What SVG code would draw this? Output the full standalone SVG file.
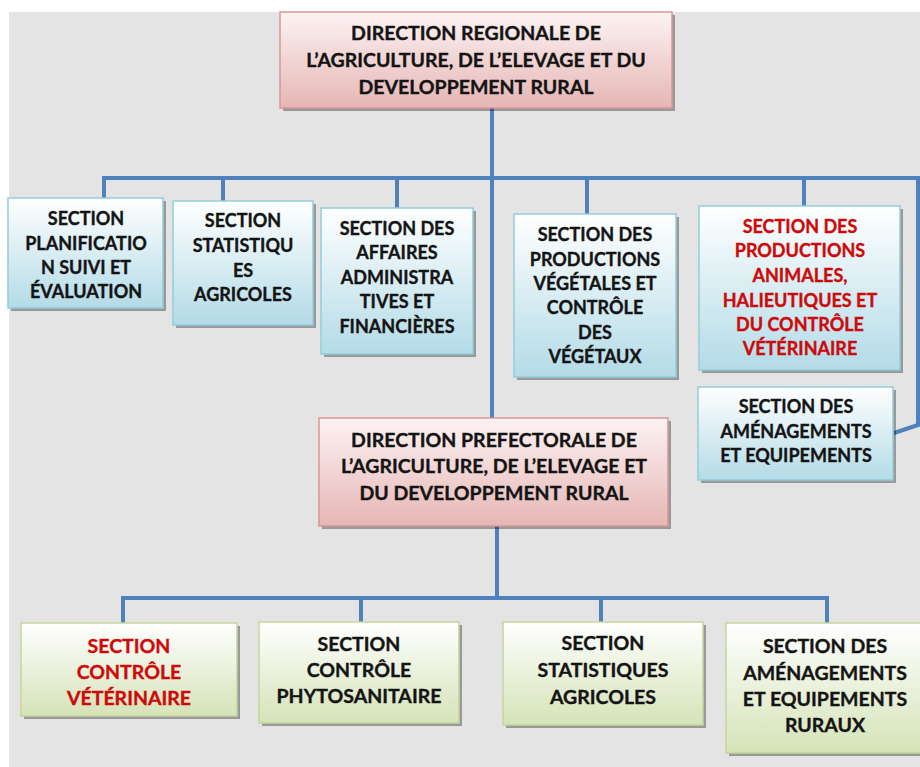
<svg xmlns="http://www.w3.org/2000/svg" width="920" height="767" viewBox="0 0 920 767">
  <defs>
    <linearGradient id="gBlue" x1="0" y1="0" x2="0" y2="1">
      <stop offset="0" stop-color="#ffffff"/>
      <stop offset="1" stop-color="#b3dbe7"/>
    </linearGradient>
    <linearGradient id="gPink" x1="0" y1="0" x2="0" y2="1">
      <stop offset="0" stop-color="#fdf3f3"/>
      <stop offset="1" stop-color="#e5b6b5"/>
    </linearGradient>
    <linearGradient id="gGreen" x1="0" y1="0" x2="0" y2="1">
      <stop offset="0" stop-color="#ffffff"/>
      <stop offset="1" stop-color="#d5e3b8"/>
    </linearGradient>
    <style>
      .sh { fill: #000000; fill-opacity: 0.33; }
      .blue { fill: url(#gBlue); stroke: #93cddd; stroke-width: 1.5; }
      .pink { fill: url(#gPink); stroke: #d99694; stroke-width: 1.5; }
      .green { fill: url(#gGreen); stroke: #c3d69b; stroke-width: 1.5; }
      .t { font-family: Lato, "Open Sans", "Liberation Sans", sans-serif; font-weight: 700; fill: #141414; stroke: #141414; stroke-width: 0.35; text-anchor: middle; }
      .red { fill: #cc0a0a; stroke: #cc0a0a; }
      .s17 { font-size: 18px; }
      .s18 { font-size: 19.5px; }
      .wire { fill: none; stroke: #4f81bd; stroke-width: 4; }
    </style>
  </defs>

  <!-- backdrop -->
  <rect x="0" y="0" width="920" height="767" fill="#ffffff"/>
  <rect x="9" y="12" width="911" height="755" fill="#e4e4e4"/>

  <!-- connectors -->
  <g id="connectors">
    <path class="wire" d="M492 108 V418"/>
    <path class="wire" d="M104 198 V178 H918 V425 L894 433"/>
    <path class="wire" d="M223 178 V201"/>
    <path class="wire" d="M397 178 V208"/>
    <path class="wire" d="M587 178 V214"/>
    <path class="wire" d="M804 178 V206"/>
    <path class="wire" d="M497 526 V598"/>
    <path class="wire" d="M123 623 V598 H827 V623"/>
    <path class="wire" d="M361 598 V622"/>
    <path class="wire" d="M601 598 V622"/>
  </g>

  <!-- regional direction -->
  <g id="dir-regionale">
    <rect class="sh" x="283" y="15" width="392" height="96"/>
    <rect class="pink" x="280" y="12" width="392" height="96"/>
    <text class="t s18" x="476" y="40">DIRECTION REGIONALE DE</text>
    <text class="t s18" x="476" y="67">L’AGRICULTURE, DE L’ELEVAGE ET DU</text>
    <text class="t s18" x="476" y="94">DEVELOPPEMENT RURAL</text>
  </g>

  <g id="sec-planification">
    <rect class="sh" x="11" y="201" width="155" height="110"/>
    <rect class="blue" x="8" y="198" width="155" height="110"/>
    <text class="t s17" x="86" y="225">SECTION</text>
    <text class="t s17" x="86" y="250">PLANIFICATIO</text>
    <text class="t s17" x="86" y="274">N SUIVI ET</text>
    <text class="t s17" x="86" y="298">ÉVALUATION</text>
  </g>

  <g id="sec-statistiques">
    <rect class="sh" x="176" y="204" width="140" height="124"/>
    <rect class="blue" x="173" y="201" width="140" height="124"/>
    <text class="t s17" x="243" y="227">SECTION</text>
    <text class="t s17" x="243" y="252">STATISTIQU</text>
    <text class="t s17" x="243" y="277">ES</text>
    <text class="t s17" x="243" y="301">AGRICOLES</text>
  </g>

  <g id="sec-affaires">
    <rect class="sh" x="324" y="211" width="152" height="146"/>
    <rect class="blue" x="321" y="208" width="152" height="146"/>
    <text class="t s17" x="397" y="235">SECTION DES</text>
    <text class="t s17" x="397" y="259">AFFAIRES</text>
    <text class="t s17" x="397" y="284">ADMINISTRA</text>
    <text class="t s17" x="397" y="308">TIVES ET</text>
    <text class="t s17" x="397" y="333">FINANCIÈRES</text>
  </g>

  <g id="sec-vegetales">
    <rect class="sh" x="517" y="217" width="162" height="163"/>
    <rect class="blue" x="514" y="214" width="162" height="163"/>
    <text class="t s17" x="595" y="241">SECTION DES</text>
    <text class="t s17" x="595" y="266">PRODUCTIONS</text>
    <text class="t s17" x="595" y="290">VÉGÉTALES ET</text>
    <text class="t s17" x="595" y="314">CONTRÔLE</text>
    <text class="t s17" x="595" y="339">DES</text>
    <text class="t s17" x="595" y="363">VÉGÉTAUX</text>
  </g>

  <g id="sec-animales">
    <rect class="sh" x="702" y="209" width="201" height="164"/>
    <rect class="blue" x="699" y="206" width="201" height="164"/>
    <text class="t s17 red" x="800" y="233">SECTION DES</text>
    <text class="t s17 red" x="800" y="257">PRODUCTIONS</text>
    <text class="t s17 red" x="800" y="282">ANIMALES,</text>
    <text class="t s17 red" x="800" y="307">HALIEUTIQUES ET</text>
    <text class="t s17 red" x="800" y="331">DU CONTRÔLE</text>
    <text class="t s17 red" x="800" y="355">VÉTÉRINAIRE</text>
  </g>

  <g id="sec-amenagements">
    <rect class="sh" x="701" y="390" width="195" height="93"/>
    <rect class="blue" x="698" y="387" width="195" height="93"/>
    <text class="t s17" x="796" y="413">SECTION DES</text>
    <text class="t s17" x="796" y="438">AMÉNAGEMENTS</text>
    <text class="t s17" x="796" y="462">ET EQUIPEMENTS</text>
  </g>

  <!-- prefectoral direction -->
  <g id="dir-prefectorale">
    <rect class="sh" x="322" y="421" width="349" height="108"/>
    <rect class="pink" x="319" y="418" width="349" height="108"/>
    <text class="t s18" x="494" y="447">DIRECTION PREFECTORALE DE</text>
    <text class="t s18" x="494" y="473">L’AGRICULTURE, DE L’ELEVAGE ET</text>
    <text class="t s18" x="494" y="500">DU DEVELOPPEMENT RURAL</text>
  </g>

  <g id="sec-veterinaire">
    <rect class="sh" x="24" y="626" width="216" height="93"/>
    <rect class="green" x="21" y="623" width="216" height="93"/>
    <text class="t s18 red" x="129" y="653">SECTION</text>
    <text class="t s18 red" x="129" y="679">CONTRÔLE</text>
    <text class="t s18 red" x="129" y="705">VÉTÉRINAIRE</text>
  </g>

  <g id="sec-phyto">
    <rect class="sh" x="262" y="625" width="200" height="101"/>
    <rect class="green" x="259" y="622" width="200" height="101"/>
    <text class="t s18" x="359" y="651">SECTION</text>
    <text class="t s18" x="359" y="677">CONTRÔLE</text>
    <text class="t s18" x="359" y="703">PHYTOSANITAIRE</text>
  </g>

  <g id="sec-stat-agricoles">
    <rect class="sh" x="506" y="625" width="200" height="103"/>
    <rect class="green" x="503" y="622" width="200" height="103"/>
    <text class="t s18" x="603" y="650">SECTION</text>
    <text class="t s18" x="603" y="677">STATISTIQUES</text>
    <text class="t s18" x="603" y="704">AGRICOLES</text>
  </g>

  <g id="sec-amenagements-ruraux">
    <rect class="sh" x="729" y="626" width="200" height="130"/>
    <rect class="green" x="726" y="623" width="200" height="130"/>
    <text class="t s18" x="825" y="653">SECTION DES</text>
    <text class="t s18" x="825" y="680">AMÉNAGEMENTS</text>
    <text class="t s18" x="825" y="706">ET EQUIPEMENTS</text>
    <text class="t s18" x="825" y="732">RURAUX</text>
  </g>
</svg>
